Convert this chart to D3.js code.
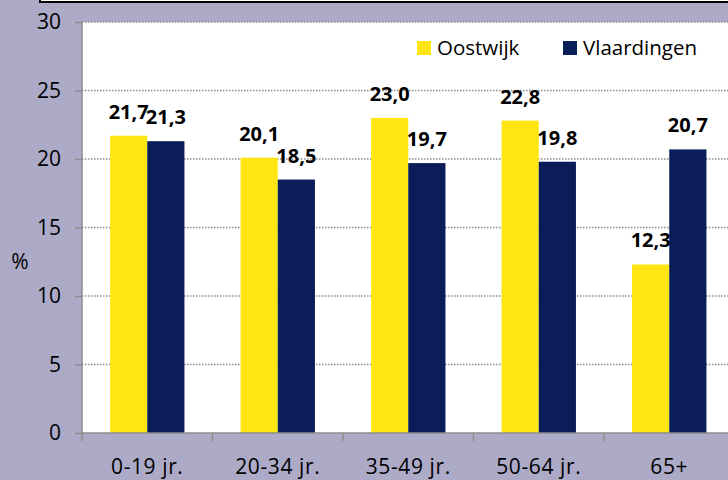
<!DOCTYPE html>
<html lang="nl">
    <head>
        <meta charset="utf-8">
        <title>Leeftijdsopbouw Oostwijk - Vlaardingen</title>
        <script type="text/javascript" src="https://d3js.org/d3.v7.min.js"></script>
        <style>
            body { margin: 0; background: #ADAAC8; }
            svg { display: block; font-family: "Open Sans", "Liberation Sans", sans-serif; }
            .axis text { font-size: 21px; fill: #000; font-family: "Open Sans", sans-serif; }
            .x.axis text { letter-spacing: 0.6px; }
            .axis path, .axis line { stroke: #8c8c8c; stroke-width: 1.5px; }
            .grid line { stroke: #8a8a8a; stroke-width: 1.3px; stroke-dasharray: 1.5,1.5; }
            .label { font-size: 20px; font-weight: bold; }
            .legend text { font-size: 20.5px; }
        </style>
    </head>
    <body>
        <script>
            // data
            const categories = ["0-19 jr.", "20-34 jr.", "35-49 jr.", "50-64 jr.", "65+"];
            const series = ["Oostwijk", "Vlaardingen"];
            const oostwijk = [21.7, 20.1, 23.0, 22.8, 12.3];
            const vlaardingen = [21.3, 18.5, 19.7, 19.8, 20.7];
            const yTicks = [0, 5, 10, 15, 20, 25, 30];
            const colors = ["#FFE612", "#0B1D58"];

            const w = 728;
            const h = 480;
            const svg = d3.select("body")
                        .append("svg")
                        .attr("width", w)
                        .attr("height", h)

            const plotLeft = 82, plotTop = 22, plotBottom = 433;
            const step = 130.5;

            // scales
            const x0 = d3.scaleBand()
                        .domain(categories)
                        .range([plotLeft, plotLeft + step * categories.length])
                        .paddingInner(0.43)
                        .paddingOuter(0.215)
            const x1 = d3.scaleBand()
                        .domain(series)
                        .range([0, x0.bandwidth()])
            const yScale = d3.scaleLinear()
                        .domain([0, 30])
                        .range([plotBottom, plotTop])
            const color = d3.scaleOrdinal().domain(series).range(colors)

            // title box remnant at the top
            svg.append("rect")
                .attr("x", 40).attr("y", -20)
                .attr("width", 720).attr("height", 22)
                .attr("fill", "#fff")
                .attr("stroke", "#000")
                .attr("stroke-width", 2)

            // plot area
            svg.append("rect")
                .attr("x", plotLeft).attr("y", plotTop)
                .attr("width", w - plotLeft + 10).attr("height", plotBottom - plotTop)
                .attr("fill", "#fff")

            // gridlines
            svg.append("g")
                .attr("class", "grid")
                .selectAll("line")
                .data(yTicks.filter(d => d > 0))
                .join("line")
                .attr("x1", plotLeft).attr("x2", w)
                .attr("y1", d => yScale(d)).attr("y2", d => yScale(d))

            // bars
            const rows = categories.map((c, i) => ({cat: c, values: [oostwijk[i], vlaardingen[i]]}));
            const groups = svg.append("g")
                .selectAll("g")
                .data(rows)
                .join("g")
                .attr("transform", d => `translate(${x0(d.cat)},0)`)

            groups.selectAll("rect")
                .data(d => d.values.map((v, j) => ({s: series[j], v: v})))
                .join("rect")
                .attr("x", d => x1(d.s))
                .attr("y", d => yScale(d.v))
                .attr("width", x1.bandwidth())
                .attr("height", d => plotBottom - yScale(d.v))
                .attr("fill", d => color(d.s))

            groups.selectAll("text")
                .data(d => d.values.map((v, j) => ({s: series[j], v: v})))
                .join("text")
                .attr("class", "label")
                .attr("x", d => x1(d.s) + x1.bandwidth() / 2)
                .attr("y", d => yScale(d.v) - 17)
                .attr("text-anchor", "middle")
                .text(d => d.v.toFixed(1).replace(".", ","))

            // axes
            const yAxis = d3.axisLeft(yScale)
                            .tickValues(yTicks)
                            .tickSize(7)
                            .tickPadding(14)
            svg.append("g")
                .attr("class", "axis")
                .attr("transform", `translate(${plotLeft},0)`)
                .call(yAxis)
                .attr("font-family", null).attr("font-size", null)
                .call(g => g.select(".domain").attr("d", `M0,${plotTop}V${plotBottom}`))

            const xAxis = d3.axisBottom(x0).tickSize(0).tickPadding(26)
            const gx = svg.append("g")
                .attr("class", "x axis")
                .attr("transform", `translate(0,${plotBottom})`)
                .call(xAxis)
                .attr("font-family", null).attr("font-size", null)
            gx.select(".domain").attr("d", `M${plotLeft},0H${w}`)
            // tick marks at category boundaries
            gx.selectAll(".bound")
                .data(d3.range(categories.length + 1))
                .join("line")
                .attr("class", "bound")
                .attr("x1", i => plotLeft + step * i).attr("x2", i => plotLeft + step * i)
                .attr("y1", 0).attr("y2", 8)

            svg.append("text")
                .attr("x", 20).attr("y", 269)
                .attr("text-anchor", "middle")
                .style("font-size", "21px")
                .text("%")

            // legend
            const legend = svg.append("g").attr("class", "legend")
            const legendX = [417, 563];
            series.forEach((s, i) => {
                legend.append("rect")
                    .attr("x", legendX[i]).attr("y", 41)
                    .attr("width", 14).attr("height", 14)
                    .attr("fill", color(s))
                legend.append("text")
                    .attr("x", legendX[i] + 20).attr("y", 55)
                    .text(s)
            })
        </script>
    </body>
</html>
